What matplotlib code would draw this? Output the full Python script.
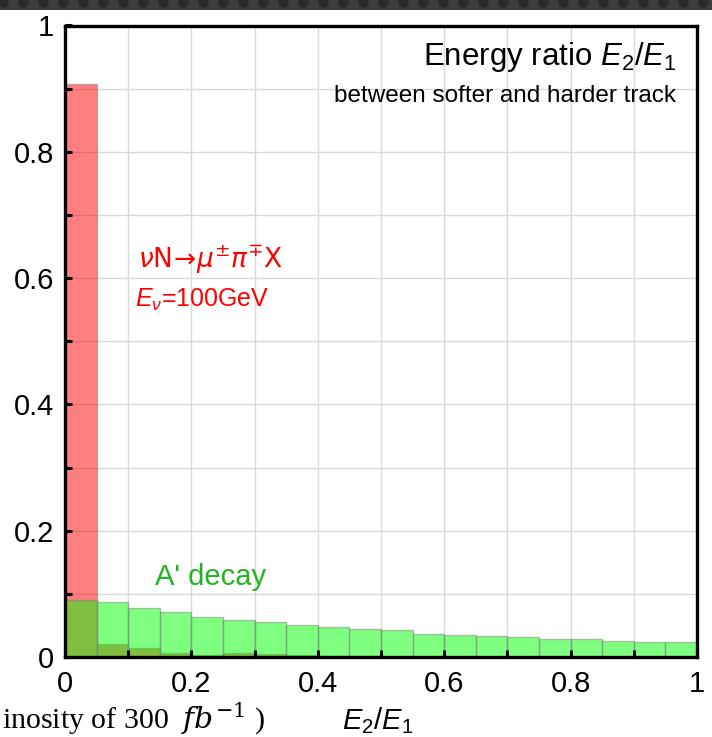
import numpy as np
import matplotlib

matplotlib.use("Agg")

import matplotlib.pyplot as plt
from matplotlib.ticker import MultipleLocator, FuncFormatter

plt.rcParams["font.family"] = ["Liberation Sans", "DejaVu Sans"]
plt.rcParams["mathtext.fontset"] = "custom"
plt.rcParams["mathtext.rm"] = "Liberation Sans"
plt.rcParams["mathtext.it"] = "Liberation Sans:italic"
plt.rcParams["mathtext.bf"] = "Liberation Sans:bold"

# histogram bins of E2/E1 (width 0.05)
bin_edges = np.linspace(0, 1, 21)

# neutrino background nu N -> mu pi X
nu_bg = [0.908, 0.020, 0.015, 0.006, 0.003, 0.006, 0.004, 0.003, 0.002, 0.001,
         0.0, 0.0, 0.0, 0.0, 0.0, 0.0, 0.0, 0.0, 0.0, 0.0]

# A' decay signal
a_decay = [0.090, 0.087, 0.077, 0.072, 0.064, 0.059, 0.056, 0.051, 0.048, 0.044,
           0.042, 0.037, 0.035, 0.033, 0.031, 0.029, 0.028, 0.025, 0.024, 0.023]

W, H = 712, 737
fig = plt.figure(figsize=(W / 100, H / 100), dpi=100)

# dark dotted strip at the top of the screenshot
band = fig.add_axes([0, 1 - 10 / H, 1, 10 / H])
band.set_xlim(0, W)
band.set_ylim(0, 10)
band.add_patch(plt.Rectangle((0, 0), W, 10, color="#3d3d3f", zorder=0))
dots_x = np.arange(3, W, 20)
band.scatter(dots_x, np.full(len(dots_x), 8), s=60, color="#2a2a2c",
             linewidths=0, zorder=1)
band.axis("off")

ax = fig.add_axes([65 / W, 80 / H, 632 / W, 631.5 / H])

widths = np.diff(bin_edges)
ax.bar(bin_edges[:-1], nu_bg, width=widths, align="edge",
       color="#ff0000", alpha=0.5, edgecolor="#808080", linewidth=1, zorder=2)
ax.bar(bin_edges[:-1], a_decay, width=widths, align="edge",
       color="#00ff00", alpha=0.5, edgecolor="#808080", linewidth=1, zorder=3)

ax.set_xlim(0, 1)
ax.set_ylim(0, 1)

ax.xaxis.set_major_locator(MultipleLocator(0.2))
ax.xaxis.set_minor_locator(MultipleLocator(0.1))
ax.yaxis.set_major_locator(MultipleLocator(0.2))
ax.yaxis.set_minor_locator(MultipleLocator(0.1))
fmt = FuncFormatter(lambda v, p: "0" if abs(v) < 1e-9 else ("1" if abs(v - 1) < 1e-9 else f"{v:.1f}"))
ax.xaxis.set_major_formatter(fmt)
ax.yaxis.set_major_formatter(fmt)

# grid below the bars, ticks above them
grid_pos = np.arange(1, 10) / 10
ax.vlines(grid_pos, 0, 1, color="#d9d9d9", linewidth=1, zorder=0)
ax.hlines(grid_pos, 0, 1, color="#d9d9d9", linewidth=1, zorder=0)
ax.set_axisbelow(False)
ax.xaxis.set_zorder(5)
ax.yaxis.set_zorder(5)
ax.tick_params(which="both", direction="in", width=2.2, length=5,
               top=False, right=False, labelsize=21, pad=8)
ax.tick_params(axis="x", pad=9)
for s in ax.spines.values():
    s.set_linewidth(2.4)
    s.set_zorder(6)

ax.text(0.967, 0.937, "Energy ratio $E_2/E_1$", ha="right", va="baseline",
        fontsize=22.5)
ax.text(0.967, 0.879, "between softer and harder track", ha="right",
        va="baseline", fontsize=17.5)

ax.text(0.115, 0.616, r"$\nu\mathrm{N}\!\rightarrow\!\mu^{\pm}\pi^{\mp}\mathrm{X}$",
        color="#ff0000", ha="left", va="baseline", fontsize=19,
        math_fontfamily="dejavusans")
ax.text(0.11, 0.554, r"$E_\nu$=100GeV", color="#ff0000", ha="left",
        va="baseline", fontsize=18)
ax.text(0.142, 0.114, "A' decay", color="#22b422", ha="left", va="baseline",
        fontsize=21)

fig.text(378 / W, 1 - 729 / H, "$E_2/E_1$", ha="center", va="baseline",
         fontsize=21)
fig.text(2 / W, 1 - 729 / H, r"inosity of 300  $fb^{-1}$ )",
         ha="left", va="baseline", fontsize=21.5, family="Liberation Serif",
         math_fontfamily="dejavuserif")

fig.savefig("out.png", dpi=100)
